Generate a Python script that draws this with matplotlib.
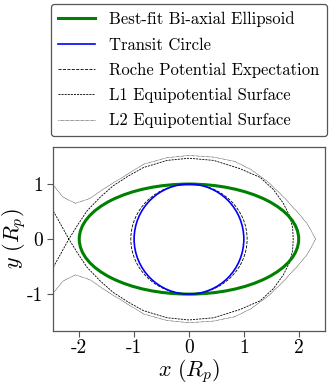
import numpy as np
import matplotlib
matplotlib.use("Agg")
import matplotlib.pyplot as plt
from matplotlib.patches import Ellipse
from matplotlib.lines import Line2D

plt.rcParams['font.family'] = 'serif'
plt.rcParams['font.serif'] = ['cmr10']
plt.rcParams['mathtext.fontset'] = 'cm'
plt.rcParams['axes.unicode_minus'] = False
plt.rcParams['axes.formatter.use_mathtext'] = False

# best-fit bi-axial ellipsoid and transit circle (semi-axes, in R_p)
ell_a, ell_b = 2.0, 1.0
circ_r = 1.0
roche_a, roche_b = 1.06, 1.0

# L1 equipotential, upper half of the planet lobe (from the L1 point to the far side)
l1_x = [-2.19, -2.02, -1.86, -1.62, -1.38, -1.10, -0.83, -0.40, 0.00, 0.45, 0.93, 1.30, 1.54, 1.72, 1.84, 1.89, 1.90]
l1_y = [0.00, 0.27, 0.51, 0.76, 0.97, 1.15, 1.30, 1.43, 1.47, 1.43, 1.28, 1.12, 0.90, 0.65, 0.41, 0.20, 0.00]
# L1 arms heading towards the star
l1_arm_x = [-2.50, -2.35, -2.19]
l1_arm_y = [0.56, 0.29, 0.00]

# L2 equipotential, upper branch
l2_x = [-2.50, -2.29, -2.07, -1.80, -1.56, -1.25, -0.83, -0.40, 0.00, 0.45, 0.84, 1.12, 1.45, 1.72, 1.95, 2.15, 2.31]
l2_y = [1.01, 0.76, 0.65, 0.74, 0.91, 1.10, 1.36, 1.48, 1.52, 1.49, 1.41, 1.27, 1.03, 0.77, 0.52, 0.29, 0.00]

fig = plt.figure(figsize=(3.32, 3.88), dpi=100)
ax = fig.add_axes([0.161, 0.147, 0.818, 0.475])

# L1 as one path: upper arm -> lower lobe -> upper lobe -> lower arm
lx = np.array(l1_x)
ly = np.array(l1_y)
ax_ = np.array(l1_arm_x)
ay_ = np.array(l1_arm_y)
path_x = np.concatenate([ax_, lx[1:], lx[::-1][1:], ax_[::-1][1:]])
path_y = np.concatenate([ay_, -ly[1:], ly[::-1][1:], -ay_[::-1][1:]])
ax.plot(path_x, path_y, color='k', ls=(0, (2.5, 1.2)), lw=0.6, zorder=2)

# L2 upper branch then lower branch
l2x = np.array(l2_x)
l2y = np.array(l2_y)
ax.plot(np.concatenate([l2x, l2x[::-1][1:]]), np.concatenate([l2y, -l2y[::-1][1:]]),
        color='k', ls=(0, (1, 1)), lw=0.45, zorder=2)

ax.add_patch(Ellipse((0, 0), 2 * roche_a, 2 * roche_b, fill=False, ec='k', ls='--', lw=0.6, zorder=3))
ax.add_patch(Ellipse((0, 0), 2 * ell_a, 2 * ell_b, fill=False, ec='g', lw=2.2, zorder=4))
ax.add_patch(Ellipse((0, 0), 2 * circ_r, 2 * circ_r, fill=False, ec='b', lw=1.2, zorder=5))

ax.set_xlim(-2.47, 2.48)
ax.set_ylim(-1.67, 1.68)
ax.set_xticks([-2, -1, 0, 1, 2])
ax.set_yticks([-1, 0, 1])
ax.tick_params(labelsize=14, color='#555555', length=4, width=0.8)
ax.tick_params(axis='x', pad=2)
for s in ax.spines.values():
    s.set_color('#555555')
    s.set_linewidth(0.9)
ax.set_xlabel(r'$x\ (R_p)$', fontsize=16)
ax.set_ylabel(r'$y\ (R_p)$', fontsize=16)
ax.xaxis.set_label_coords(0.5, -0.14)
ax.yaxis.set_label_coords(-0.093, 0.5)

handles = [
    Line2D([], [], color='g', lw=2.2),
    Line2D([], [], color='b', lw=1.2),
    Line2D([], [], color='k', ls='--', lw=0.6),
    Line2D([], [], color='k', ls=(0, (2.5, 1.2)), lw=0.6),
    Line2D([], [], color='k', ls=(0, (1, 1)), lw=0.45),
]
labels = ['Best-fit Bi-axial Ellipsoid', 'Transit Circle', 'Roche Potential Expectation',
          'L1 Equipotential Surface', 'L2 Equipotential Surface']
leg = fig.legend(handles, labels, loc='upper right', bbox_to_anchor=(0.985, 0.99),
                 fontsize=12, handlelength=2.2, handletextpad=0.85, labelspacing=0.6,
                 borderpad=0.45, borderaxespad=0, fancybox=True, framealpha=1,
                 edgecolor='#555555')
leg.get_frame().set_linewidth(0.9)

fig.savefig('out.png', dpi=100)
